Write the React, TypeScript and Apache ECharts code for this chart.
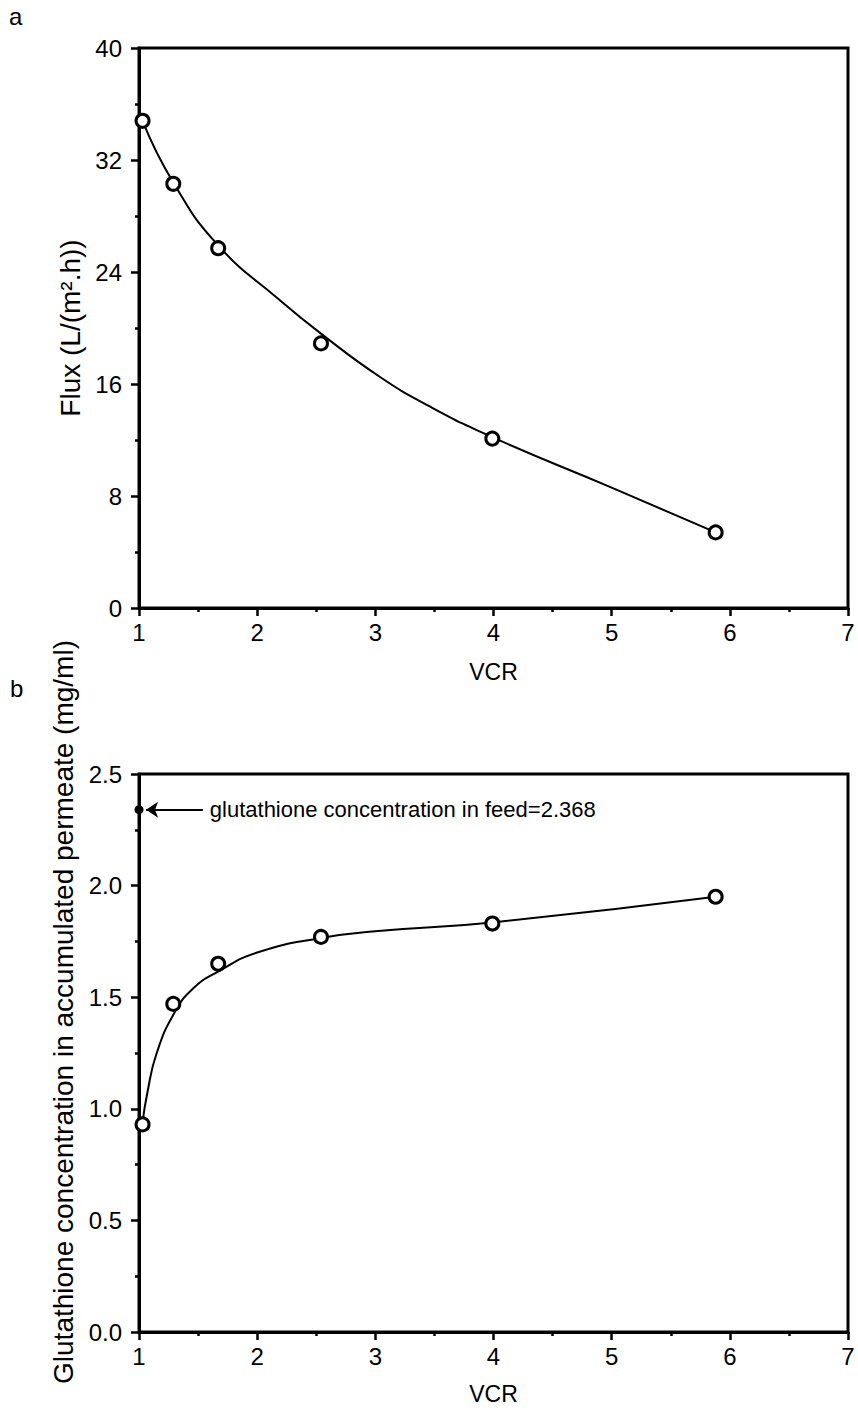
import React, { useEffect, useRef } from "react";
import * as echarts from "echarts";

// Measured points (panel a and b share the VCR values)
const vcr = [1.03, 1.29, 1.67, 2.54, 3.99, 5.88];
const flux = [34.8, 30.3, 25.7, 18.9, 12.1, 5.4];
const gsh = [0.93, 1.47, 1.65, 1.77, 1.83, 1.95];

// Fitted curves
const fluxFitX = [1.03, 1.29, 1.67, 2.19, 2.54, 3.04, 3.46, 3.99, 5.0, 5.88];
const fluxFitY = [34.8, 30.4, 25.9, 22.0, 19.6, 16.5, 14.4, 12.2, 8.6, 5.4];
const gshFitX = [1.03, 1.07, 1.15, 1.3, 1.46, 1.67, 2.0, 2.54, 3.0, 3.99, 5.88];
const gshFitY = [0.94, 1.07, 1.25, 1.43, 1.54, 1.615, 1.7, 1.765, 1.795, 1.835, 1.95];

// Feed concentration marker
const feedX = 1.0;
const feedY = 2.34;
const feedArrowTailX = 1.54;
const feedLabel = "glutathione concentration in feed=2.368";

const xTicks = { min: 1, max: 7, interval: 1 };
const fluxTicks = { min: 0, max: 40, interval: 8 };
const gshTicks = { min: 0, max: 2.5, interval: 0.5 };

const FONT = "Liberation Sans, Arial, Helvetica, sans-serif";

function zip(a: number[], b: number[]) {
  return a.map((v, i) => [v, b[i]]);
}

export default function App() {
  const ref = useRef<HTMLDivElement>(null);
  useEffect(() => {
    if (!ref.current) return;
    const chart = echarts.init(ref.current, null, { renderer: "svg" });
    const axisCommon = {
      type: "value" as const,
      axisLine: { show: true, lineStyle: { color: "#000", width: 3 } },
      axisTick: { show: true, inside: false, length: 8, lineStyle: { color: "#000", width: 2.5 } },
      minorTick: { show: true, splitNumber: 2, length: 4, lineStyle: { color: "#000", width: 2.5 } },
      splitLine: { show: false },
      minorSplitLine: { show: false },
    };
    const xAxisOf = (gi: number, gap: number) => ({
      ...axisCommon,
      gridIndex: gi,
      ...xTicks,
      name: "VCR",
      nameLocation: "middle",
      nameGap: gap,
      nameTextStyle: { color: "#000", fontSize: 23, fontFamily: FONT },
      axisLabel: { color: "#000", fontSize: 24, fontFamily: FONT, margin: 12 },
    });
    const lineSeries = (gi: number, xs: number[], ys: number[]) => ({
      type: "line",
      xAxisIndex: gi,
      yAxisIndex: gi,
      data: zip(xs, ys),
      smooth: 0.5,
      showSymbol: false,
      symbol: "none",
      lineStyle: { color: "#000", width: 2 },
      z: 2,
    });
    const pointSeries = (gi: number, xs: number[], ys: number[]) => ({
      type: "scatter",
      xAxisIndex: gi,
      yAxisIndex: gi,
      data: zip(xs, ys),
      symbol: "circle",
      symbolSize: 13,
      itemStyle: { color: "#fff", borderColor: "#000", borderWidth: 3, opacity: 1 },
      z: 3,
    });
    const option = {
      animation: false,
      backgroundColor: "#fff",
      grid: [
        { left: 139, top: 48, width: 709, height: 560, show: true, borderColor: "#000", borderWidth: 3, backgroundColor: "transparent", containLabel: false },
        { left: 139, top: 774, width: 709, height: 558, show: true, borderColor: "#000", borderWidth: 3, backgroundColor: "transparent", containLabel: false },
      ],
      xAxis: [xAxisOf(0, 52), xAxisOf(1, 50)],
      yAxis: [
        {
          ...axisCommon,
          gridIndex: 0,
          ...fluxTicks,
          name: "Flux (L/(m\u00b2.h))",
          nameLocation: "middle",
          nameGap: 52,
          nameTextStyle: { color: "#000", fontSize: 28, fontFamily: FONT },
          axisLabel: { color: "#000", fontSize: 24, fontFamily: FONT, margin: 17 },
        },
        {
          ...axisCommon,
          gridIndex: 1,
          ...gshTicks,
          name: "Glutathione concentration in accumulated permeate (mg/ml)",
          nameLocation: "middle",
          nameGap: 40,
          nameTextStyle: { color: "#000", fontSize: 28, fontFamily: FONT, padding: [0, 0, 0, 82] },
          axisLabel: {
            color: "#000",
            fontSize: 24,
            fontFamily: FONT,
            margin: 17,
            formatter: (v: number) => v.toFixed(1),
          },
        },
      ],
      graphic: [
        { type: "text", left: 9, top: 4, style: { text: "a", fontSize: 24, fontFamily: FONT, fill: "#000" } },
        { type: "text", left: 10, top: 676, style: { text: "b", fontSize: 24, fontFamily: FONT, fill: "#000" } },
      ],
      series: [
        lineSeries(0, fluxFitX, fluxFitY),
        pointSeries(0, vcr, flux),
        lineSeries(1, gshFitX, gshFitY),
        pointSeries(1, vcr, gsh),
        {
          type: "scatter",
          xAxisIndex: 1,
          yAxisIndex: 1,
          data: [[feedX, feedY]],
          symbol: "circle",
          symbolSize: 9,
          itemStyle: { color: "#000", opacity: 1 },
          z: 4,
          markLine: {
            silent: true,
            symbol: ["arrow", "none"],
            symbolSize: 12,
            lineStyle: { color: "#000", width: 2, type: "solid", opacity: 1 },
            label: {
              show: true,
              position: "end",
              formatter: feedLabel,
              color: "#000",
              fontSize: 22,
              fontFamily: FONT,
              distance: 7,
            },
            data: [[{ coord: [feedX + 0.06, feedY] }, { coord: [feedArrowTailX, feedY] }]],
          },
        },
      ],
    };
    chart.setOption(option as any);
    return () => chart.dispose();
  }, []);
  return <div ref={ref} style={{ position: "absolute", left: 0, top: 0, width: 858, height: 1417 }} />;
}
